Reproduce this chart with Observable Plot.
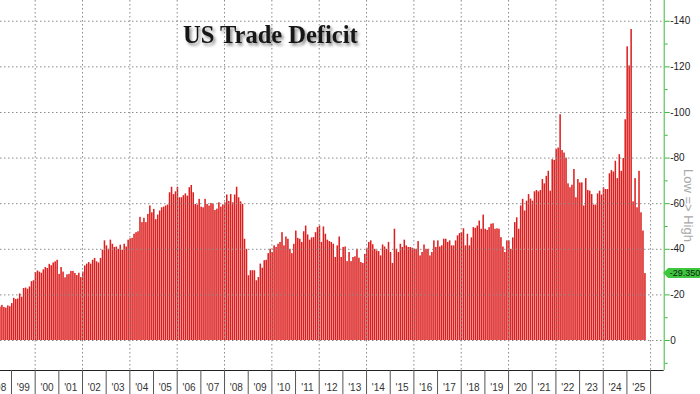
<!DOCTYPE html>
<html>
<head>
<meta charset="utf-8">
<script src="https://cdn.jsdelivr.net/npm/d3@7"></script>
<script src="https://cdn.jsdelivr.net/npm/@observablehq/plot@0.6"></script>
<style>
html, body { margin: 0; padding: 0; background: #fff; }
#chart { position: relative; width: 700px; height: 394px; overflow: hidden; }
</style>
</head>
<body>
<div id="chart"></div>
<script>
// US trade balance, monthly, $bn (negative = deficit). 1998 starts in July.
const b1998 = [-14.6, -15.4, -14.5, -14.2, -15.2, -14.8];
const b1999 = [-16.2, -18.5, -18.0, -18.2, -20.4, -19.0, -22.8, -23.0, -22.5, -23.5, -25.8, -26.2];
const b2000 = [-29.8, -30.5, -30.0, -29.5, -31.0, -32.0, -31.6, -33.4, -32.8, -34.0, -34.5, -35.2];
const b2001 = [-29.0, -32.0, -30.0, -27.5, -28.8, -29.0, -30.3, -30.3, -29.4, -28.5, -29.5, -27.6];
const b2002 = [-30.0, -32.7, -33.5, -34.2, -33.5, -35.2, -36.0, -34.5, -34.0, -36.0, -39.6, -43.7];
const b2003 = [-41.5, -40.0, -44.0, -42.2, -40.8, -41.0, -40.0, -41.8, -39.6, -42.2, -41.0, -44.0];
const b2004 = [-44.6, -44.8, -46.6, -47.3, -47.7, -54.0, -51.7, -53.6, -51.7, -55.3, -59.0, -56.0];
const b2005 = [-57.5, -53.0, -55.0, -56.8, -58.2, -58.5, -59.0, -59.4, -64.8, -67.2, -64.0, -65.2];
const b2006 = [-67.2, -62.6, -62.6, -63.5, -64.3, -63.3, -67.0, -68.0, -64.8, -59.7, -59.4, -61.9];
const b2007 = [-58.5, -58.2, -61.9, -59.7, -59.0, -60.1, -59.7, -57.0, -57.6, -60.4, -58.5, -59.5];
const b2008 = [-60.4, -63.8, -61.0, -64.0, -60.4, -63.8, -67.2, -62.6, -60.8, -59.7, -44.4, -40.0];
const b2009 = [-28.4, -30.6, -30.6, -30.6, -26.2, -27.6, -33.5, -31.7, -35.0, -35.2, -38.1, -40.0];
const b2010 = [-38.6, -41.5, -40.8, -42.2, -43.0, -47.3, -41.5, -45.4, -44.4, -40.0, -38.1, -42.2];
const b2011 = [-48.0, -44.8, -44.4, -43.0, -47.7, -50.2, -46.3, -44.0, -45.0, -45.1, -47.3, -49.5];
const b2012 = [-50.2, -43.0, -49.8, -46.6, -44.0, -43.4, -43.0, -42.2, -36.4, -41.5, -45.4, -36.4];
const b2013 = [-40.8, -41.0, -34.6, -38.6, -34.6, -36.4, -36.7, -40.0, -36.1, -34.2, -33.8, -37.8];
const b2014 = [-40.5, -43.0, -43.7, -42.0, -40.0, -39.3, -39.0, -37.1, -41.9, -41.0, -40.0, -43.0];
const b2015 = [-38.6, -33.8, -48.8, -40.0, -38.6, -42.2, -40.8, -44.0, -41.5, -40.8, -40.8, -40.5];
const b2016 = [-40.0, -40.0, -43.4, -37.1, -38.6, -41.9, -40.0, -40.0, -37.1, -38.6, -43.7, -40.8];
const b2017 = [-43.7, -41.0, -41.5, -44.4, -44.4, -43.0, -43.7, -41.5, -41.5, -43.7, -45.9, -46.9];
const b2018 = [-47.3, -49.0, -41.5, -46.6, -41.5, -45.0, -49.5, -49.2, -50.2, -52.4, -48.8, -55.0];
const b2019 = [-48.8, -48.3, -49.5, -51.0, -51.2, -48.8, -49.0, -48.8, -45.1, -41.0, -38.6, -43.7];
const b2020 = [-43.7, -40.0, -45.0, -51.7, -53.8, -48.8, -59.0, -61.9, -56.8, -61.1, -64.0, -62.0];
const b2021 = [-61.1, -65.2, -65.8, -65.2, -65.8, -70.6, -68.7, -72.0, -74.2, -65.5, -79.3, -79.0];
const b2022 = [-83.7, -84.4, -99.0, -83.3, -82.2, -80.0, -68.7, -67.0, -68.1, -75.0, -62.6, -70.6];
const b2023 = [-69.1, -69.1, -59.0, -71.0, -65.8, -65.5, -64.0, -59.4, -59.4, -64.3, -65.5, -63.8];
const b2024 = [-67.0, -66.2, -66.2, -73.1, -74.5, -73.9, -78.6, -71.0, -81.5, -74.2, -79.8, -96.8];
const b2025 = [-128.8, -120.4, -136.4, -60.8, -71.0, -58.2, -74.2, -56.0, -48.0, -29.35];

const yearSeries = [b1998, b1999, b2000, b2001, b2002, b2003, b2004, b2005, b2006, b2007,
  b2008, b2009, b2010, b2011, b2012, b2013, b2014, b2015, b2016, b2017,
  b2018, b2019, b2020, b2021, b2022, b2023, b2024, b2025];
const firstYear = 1998, firstMonthOf1998 = 6; // July

const years = d3.range(1998, 2026);
const yearLabels = years.map(y => "'" + String(y).slice(2));
const yTicks = [0, -20, -40, -60, -80, -100, -120, -140];
const yMinorTicks = [10, -10, -30, -50, -70, -90, -110, -130];
const gridYears = d3.range(2000, 2027, 2);
const separatorYears = d3.range(1999, 2027);
const titleText = "US Trade Deficit";
const noteText = "Low => High";
const lastLabel = "-29.350";
const lastValue = -29.35;

const data = [];
yearSeries.forEach((arr, k) => {
  const Y = firstYear + k;
  const s = k === 0 ? firstMonthOf1998 : 0;
  arr.forEach((v, i) => data.push({t0: Y + (s + i) / 12, t1: Y + (s + i + 1) / 12, v}));
});

const xMin = 1998.535, xMax = 2026.575, yLow = 13.15, yHigh = -149.1;
const green = "#3cb83c";
const gridColor = "#8a8a8a";

const plot = Plot.plot({
  width: 700, height: 394,
  marginLeft: 0, marginRight: 36.3, marginTop: 0, marginBottom: 24,
  style: {fontFamily: "'Liberation Sans', Arial, sans-serif", background: "white"},
  x: {type: "linear", domain: [xMin, xMax], label: null},
  y: {domain: [yLow, yHigh], label: null},
  marks: [
    Plot.rectY(data, {x1: "t0", x2: "t1", y: "v", fill: "#dc1e1e", insetRight: 0.45}),
    Plot.ruleY(yTicks, {stroke: gridColor, strokeDasharray: "1.5,2.5"}),
    Plot.ruleX(gridYears, {stroke: gridColor, strokeDasharray: "1.5,2.5"}),
    Plot.ruleY([yLow], {stroke: "#222"}),
    Plot.ruleX([xMax], {stroke: green}),
    Plot.axisX(separatorYears, {tickSize: 24, tickFormat: () => "", stroke: "#555", label: null}),
    Plot.axisX(years.map(y => y + 0.5), {tickSize: 0, tickPadding: 13, fontSize: 10, fill: "#333", label: null,
      tickFormat: d => yearLabels[years.indexOf(Math.floor(d))]}),
    Plot.axisY(yTicks, {anchor: "right", tickSize: 5, tickPadding: 1, stroke: green, fill: "#222", fontSize: 10, label: null,
      tickFormat: d => d === 0 ? "0" : "-" + Math.abs(d)}),
    Plot.axisY(yMinorTicks, {anchor: "right", tickSize: 3, tickFormat: () => "", stroke: green, label: null})
  ]
});

document.getElementById("chart").appendChild(plot);

const svg = d3.select(plot);
const xs = plot.scale("x"), ys = plot.scale("y");
const defs = svg.append("defs");
defs.append("filter").attr("id", "ts").attr("x", "-10%").attr("y", "-30%").attr("width", "130%").attr("height", "180%")
  .append("feDropShadow").attr("dx", 2).attr("dy", 2.5).attr("stdDeviation", 1.6)
  .attr("flood-color", "#000").attr("flood-opacity", 0.45);

svg.append("text")
  .attr("x", 183).attr("y", 43)
  .attr("text-anchor", "start")
  .attr("font-family", "'Liberation Serif', 'Times New Roman', serif")
  .attr("font-weight", "bold").attr("font-size", 24.5)
  .attr("fill", "#151515").attr("filter", "url(#ts)")
  .text(titleText);

const axX = xs.apply(xMax);
svg.append("text")
  .attr("transform", `translate(${axX + 24},${ys.apply(-59)}) rotate(90)`)
  .attr("text-anchor", "middle").attr("dominant-baseline", "middle")
  .attr("font-family", "'Liberation Sans', Arial, sans-serif").attr("font-size", 13)
  .attr("fill", "#a8a8a8")
  .text(noteText);

const yb = ys.apply(lastValue);
svg.append("path")
  .attr("d", `M${axX - 0.5},${yb} L${axX + 4.5},${yb - 5} L700,${yb - 5} L700,${yb + 5} L${axX + 4.5},${yb + 5} Z`)
  .attr("fill", "#3ec63e");
svg.append("text")
  .attr("x", axX + 6).attr("y", yb).attr("dy", "0.35em")
  .attr("text-anchor", "start")
  .attr("font-family", "'Liberation Sans', Arial, sans-serif").attr("font-size", 9)
  .attr("fill", "#112211")
  .text(lastLabel);
</script>
</body>
</html>
